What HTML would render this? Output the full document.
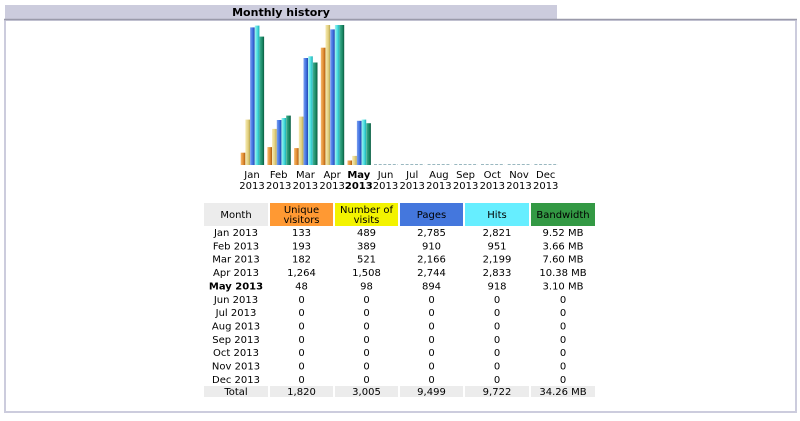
<!DOCTYPE html>
<html><head><meta charset="utf-8"><style>
body{margin:0;background:#fff;width:800px;height:421px;overflow:hidden}
svg{display:block}
text{font-family:"DejaVu Sans","Liberation Sans",sans-serif;font-size:10px;fill:#000}
</style></head><body>
<svg width="800" height="421" viewBox="0 0 800 421">
<defs>
<linearGradient id="go" x1="0" x2="1"><stop offset="0" stop-color="#f6b86a"/><stop offset="0.6" stop-color="#e08a30"/><stop offset="1" stop-color="#a85c10"/></linearGradient>
<linearGradient id="gy" x1="0" x2="1"><stop offset="0" stop-color="#f6eab0"/><stop offset="0.6" stop-color="#e2d080"/><stop offset="1" stop-color="#b8a550"/></linearGradient>
<linearGradient id="gb" x1="0" x2="1"><stop offset="0" stop-color="#7aa0f0"/><stop offset="0.6" stop-color="#3d6ee0"/><stop offset="1" stop-color="#2046a8"/></linearGradient>
<linearGradient id="gc" x1="0" x2="1"><stop offset="0" stop-color="#a0f4f4"/><stop offset="0.6" stop-color="#44dcdc"/><stop offset="1" stop-color="#20a8b0"/></linearGradient>
<linearGradient id="gg" x1="0" x2="1"><stop offset="0" stop-color="#40b090"/><stop offset="0.6" stop-color="#1a8a66"/><stop offset="1" stop-color="#0a5a40"/></linearGradient>
</defs>
<rect x="5" y="5" width="552" height="14" fill="#ccccdd"/>
<text x="281" y="16" text-anchor="middle" font-weight="bold" style="font-size:11px">Monthly history</text>
<rect x="5" y="20" width="791" height="392" fill="#fff" stroke="#ccccdd" stroke-width="2"/>
<line x1="4" y1="19.5" x2="797" y2="19.5" stroke="#9a9aaa" stroke-width="1.5"/>
<g>
<rect x="240.7" y="152.7" width="4.6" height="12.3" fill="url(#go)"/>
<rect x="245.4" y="119.6" width="4.6" height="45.4" fill="url(#gy)"/>
<rect x="250.1" y="27.4" width="4.6" height="137.6" fill="url(#gb)"/>
<rect x="254.8" y="25.6" width="4.6" height="139.4" fill="url(#gc)"/>
<rect x="259.5" y="36.6" width="4.6" height="128.4" fill="url(#gg)"/>
<rect x="267.4" y="147.1" width="4.6" height="17.9" fill="url(#go)"/>
<rect x="272.1" y="128.9" width="4.6" height="36.1" fill="url(#gy)"/>
<rect x="276.8" y="120.0" width="4.6" height="45.0" fill="url(#gb)"/>
<rect x="281.5" y="118.0" width="4.6" height="47.0" fill="url(#gc)"/>
<rect x="286.2" y="115.6" width="4.6" height="49.4" fill="url(#gg)"/>
<rect x="294.1" y="148.1" width="4.6" height="16.9" fill="url(#go)"/>
<rect x="298.8" y="116.6" width="4.6" height="48.4" fill="url(#gy)"/>
<rect x="303.5" y="58.0" width="4.6" height="107.0" fill="url(#gb)"/>
<rect x="308.2" y="56.3" width="4.6" height="108.7" fill="url(#gc)"/>
<rect x="312.9" y="62.5" width="4.6" height="102.5" fill="url(#gg)"/>
<rect x="320.8" y="47.7" width="4.6" height="117.3" fill="url(#go)"/>
<rect x="325.5" y="25" width="4.6" height="140" fill="url(#gy)"/>
<rect x="330.2" y="29.4" width="4.6" height="135.6" fill="url(#gb)"/>
<rect x="334.9" y="25" width="4.6" height="140" fill="url(#gc)"/>
<rect x="339.6" y="25" width="4.6" height="140" fill="url(#gg)"/>
<rect x="347.5" y="160.5" width="4.6" height="4.5" fill="url(#go)"/>
<rect x="352.2" y="155.9" width="4.6" height="9.1" fill="url(#gy)"/>
<rect x="356.9" y="120.8" width="4.6" height="44.2" fill="url(#gb)"/>
<rect x="361.6" y="119.6" width="4.6" height="45.4" fill="url(#gc)"/>
<rect x="366.3" y="123.2" width="4.6" height="41.8" fill="url(#gg)"/>
</g>
<g stroke-width="1" stroke="#9ab8c0" stroke-dasharray="3,1.7">
<line x1="374" y1="164.5" x2="398" y2="164.5"/>
<line x1="400.9" y1="164.5" x2="424.5" y2="164.5"/>
<line x1="427.6" y1="164.5" x2="451.2" y2="164.5"/>
<line x1="454.3" y1="164.5" x2="477.9" y2="164.5"/>
<line x1="481" y1="164.5" x2="504.6" y2="164.5"/>
<line x1="507.7" y1="164.5" x2="531.3" y2="164.5"/>
<line x1="534.4" y1="164.5" x2="558" y2="164.5"/>
</g>
<g text-anchor="middle">
<text x="252" y="178">Jan</text><text x="252" y="189">2013</text>
<text x="278.7" y="178">Feb</text><text x="278.7" y="189">2013</text>
<text x="305.4" y="178">Mar</text><text x="305.4" y="189">2013</text>
<text x="332.1" y="178">Apr</text><text x="332.1" y="189">2013</text>
<text x="358.8" y="178" font-weight="bold">May</text><text x="358.8" y="189" font-weight="bold">2013</text>
<text x="385.5" y="178">Jun</text><text x="385.5" y="189">2013</text>
<text x="412.2" y="178">Jul</text><text x="412.2" y="189">2013</text>
<text x="438.9" y="178">Aug</text><text x="438.9" y="189">2013</text>
<text x="465.6" y="178">Sep</text><text x="465.6" y="189">2013</text>
<text x="492.3" y="178">Oct</text><text x="492.3" y="189">2013</text>
<text x="519" y="178">Nov</text><text x="519" y="189">2013</text>
<text x="545.7" y="178">Dec</text><text x="545.7" y="189">2013</text>
</g>
<rect x="204" y="203" width="64" height="23" fill="#ececec"/>
<rect x="270" y="203" width="63" height="23" fill="#ff9933"/>
<rect x="335" y="203" width="63" height="23" fill="#f3f300"/>
<rect x="400" y="203" width="63" height="23" fill="#4477dd"/>
<rect x="465" y="203" width="64" height="23" fill="#66eeff"/>
<rect x="531" y="203" width="64" height="23" fill="#339944"/>
<g text-anchor="middle">
<text x="236" y="218">Month</text>
<text x="301.5" y="213">Unique</text><text x="301.5" y="223">visitors</text>
<text x="366.5" y="213">Number of</text><text x="366.5" y="223">visits</text>
<text x="431.5" y="218">Pages</text>
<text x="497" y="218">Hits</text>
<text x="563" y="218">Bandwidth</text>
</g>
<rect x="204" y="386" width="64" height="11" fill="#ececec"/>
<rect x="270" y="386" width="63" height="11" fill="#ececec"/>
<rect x="335" y="386" width="63" height="11" fill="#ececec"/>
<rect x="400" y="386" width="63" height="11" fill="#ececec"/>
<rect x="465" y="386" width="64" height="11" fill="#ececec"/>
<rect x="531" y="386" width="64" height="11" fill="#ececec"/>
<g text-anchor="middle">
<g transform="translate(0,236)"><text x="236">Jan 2013</text><text x="301.5">133</text><text x="366.5">489</text><text x="431.5">2,785</text><text x="497">2,821</text><text x="563">9.52 MB</text></g>
<g transform="translate(0,249.4)"><text x="236">Feb 2013</text><text x="301.5">193</text><text x="366.5">389</text><text x="431.5">910</text><text x="497">951</text><text x="563">3.66 MB</text></g>
<g transform="translate(0,262.7)"><text x="236">Mar 2013</text><text x="301.5">182</text><text x="366.5">521</text><text x="431.5">2,166</text><text x="497">2,199</text><text x="563">7.60 MB</text></g>
<g transform="translate(0,276.1)"><text x="236">Apr 2013</text><text x="301.5">1,264</text><text x="366.5">1,508</text><text x="431.5">2,744</text><text x="497">2,833</text><text x="563">10.38 MB</text></g>
<g transform="translate(0,289.4)"><text x="236" font-weight="bold">May 2013</text><text x="301.5">48</text><text x="366.5">98</text><text x="431.5">894</text><text x="497">918</text><text x="563">3.10 MB</text></g>
<g transform="translate(0,302.8)"><text x="236">Jun 2013</text><text x="301.5">0</text><text x="366.5">0</text><text x="431.5">0</text><text x="497">0</text><text x="563">0</text></g>
<g transform="translate(0,316.2)"><text x="236">Jul 2013</text><text x="301.5">0</text><text x="366.5">0</text><text x="431.5">0</text><text x="497">0</text><text x="563">0</text></g>
<g transform="translate(0,329.5)"><text x="236">Aug 2013</text><text x="301.5">0</text><text x="366.5">0</text><text x="431.5">0</text><text x="497">0</text><text x="563">0</text></g>
<g transform="translate(0,342.9)"><text x="236">Sep 2013</text><text x="301.5">0</text><text x="366.5">0</text><text x="431.5">0</text><text x="497">0</text><text x="563">0</text></g>
<g transform="translate(0,356.2)"><text x="236">Oct 2013</text><text x="301.5">0</text><text x="366.5">0</text><text x="431.5">0</text><text x="497">0</text><text x="563">0</text></g>
<g transform="translate(0,369.6)"><text x="236">Nov 2013</text><text x="301.5">0</text><text x="366.5">0</text><text x="431.5">0</text><text x="497">0</text><text x="563">0</text></g>
<g transform="translate(0,383)"><text x="236">Dec 2013</text><text x="301.5">0</text><text x="366.5">0</text><text x="431.5">0</text><text x="497">0</text><text x="563">0</text></g>
<g transform="translate(0,395)"><text x="236">Total</text><text x="301.5">1,820</text><text x="366.5">3,005</text><text x="431.5">9,499</text><text x="497">9,722</text><text x="563">34.26 MB</text></g>
</g>
</svg>
</body></html>
